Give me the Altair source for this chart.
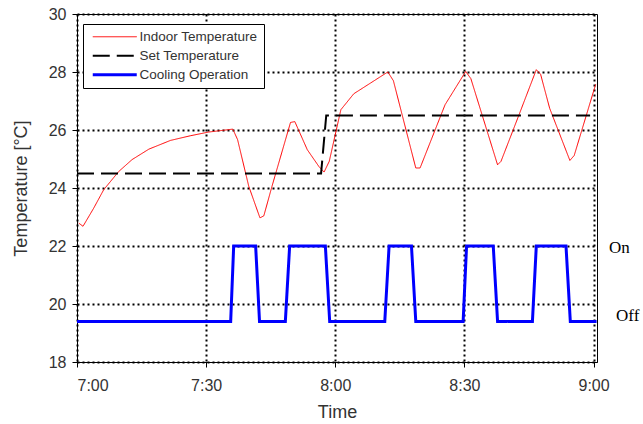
import altair as alt
import pandas as pd

# ---- data (minutes after 7:00, °C) ----
indoor_t = [0.4, 1.4, 3.9, 6.2, 9.7, 12.8, 16.7, 21.7, 26.3, 30.6, 36.2, 37.3, 39.9, 42.5,
            43.4, 45.3, 49.6, 50.6, 53.5, 56.2, 57.4, 58.6, 61.3, 64.3, 68.2, 72.2, 73.5,
            78.7, 79.7, 85.5, 90.3, 91.5, 97.7, 98.5, 102.7, 106.7, 107.7, 109.8, 114.5,
            115.5, 120.5]
indoor_v = [22.79, 22.68, 23.31, 23.94, 24.57, 24.98, 25.34, 25.64, 25.80, 25.93, 26.03,
            25.67, 24.06, 22.97, 23.04, 24.06, 26.26, 26.29, 25.32, 24.74, 24.55, 24.92,
            26.70, 27.25, 27.62, 28.00, 27.70, 24.69, 24.69, 26.87, 28.02, 27.77, 24.80,
            24.92, 26.53, 28.08, 27.92, 26.75, 24.95, 25.12, 27.58]

set_t = [0, 56.7, 57.9, 119.2]
set_v = [24.5, 24.5, 26.5, 26.5]

ON, OFF = 22.0, 19.4
cool_t = [0, 35.7, 36.4, 41.5, 42.4, 48.4, 49.4, 57.7, 58.7, 71.5, 72.5, 77.7, 78.7,
          89.7, 90.5, 96.7, 97.7, 105.8, 106.7, 113.6, 114.6, 120.7]
cool_v = [OFF, OFF, ON, ON, OFF, OFF, ON, ON, OFF, OFF, ON, ON, OFF,
          OFF, ON, ON, OFF, OFF, ON, ON, OFF, OFF]

series_names = ["Indoor Temperature", "Set Temperature", "Cooling Operation"]
x_ticks = [0, 30, 60, 90, 120]
y_ticks = [18, 20, 22, 24, 26, 28, 30]

rows = []
for t, v in zip(indoor_t, indoor_v):
    rows.append({"series": series_names[0], "t": t, "v": v})
for t, v in zip(set_t, set_v):
    rows.append({"series": series_names[1], "t": t, "v": v})
for t, v in zip(cool_t, cool_v):
    rows.append({"series": series_names[2], "t": t, "v": v})
df = pd.DataFrame(rows)

SANS = "Liberation Sans"
TXT = "#333333"

x_enc = alt.X("t:Q", scale=alt.Scale(domain=[0, 120.8], nice=False, zero=False),
              axis=alt.Axis(values=x_ticks, title="Time",
                            labelExpr="floor((420 + datum.value) / 60) + ':' + (datum.value % 60 == 0 ? '00' : '30')"))
y_enc = alt.Y("v:Q", scale=alt.Scale(domain=[18, 30], nice=False, zero=False),
              axis=alt.Axis(values=y_ticks, title="Temperature [°C]"))

leg = alt.Legend(title=None, orient="none", legendX=6, legendY=10,
                 symbolType="M-4.4,0H4.4", symbolSize=100, symbolOffset=19,
                 labelFont=SANS, labelFontSize=13.5,
                 labelColor=TXT, strokeColor="black", fillColor="white", padding=6,
                 cornerRadius=0, labelOffset=18, rowPadding=4)

lines = alt.Chart(df).mark_line(clip=True).encode(
    x=x_enc,
    y=y_enc,
    color=alt.Color("series:N", scale=alt.Scale(domain=series_names, range=["#ff0000", "#000000", "#0000ff"]), legend=leg),
    strokeDash=alt.StrokeDash("series:N", scale=alt.Scale(domain=series_names, range=[[1, 0], [17, 7], [1, 0]]), legend=leg),
    strokeWidth=alt.StrokeWidth("series:N", scale=alt.Scale(domain=series_names, range=[1, 3, 2]), legend=leg),
    order="t:Q",
)

on_text = alt.Chart(pd.DataFrame({"lab": ["On"]})).mark_text(
    align="left", baseline="middle", font="Liberation Serif", fontSize=17, color="black", dy=2
).encode(x=alt.value(532), y=alt.datum(ON), text="lab:N")

off_text = alt.Chart(pd.DataFrame({"lab": ["Off"]})).mark_text(
    align="left", baseline="middle", font="Liberation Serif", fontSize=17, color="black", dy=-5
).encode(x=alt.value(539), y=alt.datum(OFF), text="lab:N")

chart = alt.layer(lines, on_text, off_text).properties(
    width=520, height=348,
    autosize=alt.AutoSizeParams(type="none"),
    padding={"left": 77, "top": 14, "right": 46, "bottom": 62},
    background="white",
).configure_view(
    stroke="black", strokeWidth=1
).configure_axis(
    grid=True, gridColor="black", gridDash=[2, 3], gridWidth=2, gridOpacity=1,
    domainColor="black", domainWidth=1, tickColor="black", tickSize=5,
    labelFont=SANS, labelFontSize=16, labelColor=TXT,
    titleFont=SANS, titleFontSize=18, titleColor=TXT, titleFontWeight="normal",
).configure_axisX(
    labelPadding=10, titlePadding=10
).configure_axisY(
    labelPadding=6, titlePadding=18
)

chart.save("out.html", embed_options={"renderer": "svg", "actions": False})
